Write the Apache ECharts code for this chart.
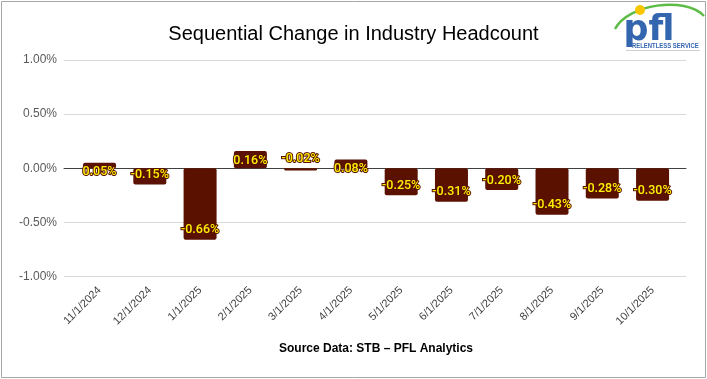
<!DOCTYPE html>
<html>
<head>
<meta charset="utf-8">
<script src="https://cdn.jsdelivr.net/npm/echarts@6/dist/echarts.min.js"></script>
<style>
html,body{margin:0;padding:0;background:#fff;}
#chart{width:707px;height:379px;}
</style>
</head>
<body>
<div id="chart"></div>
<script>
const categories = ['11/1/2024','12/1/2024','1/1/2025','2/1/2025','3/1/2025','4/1/2025','5/1/2025','6/1/2025','7/1/2025','8/1/2025','9/1/2025','10/1/2025'];
const values = [0.05, -0.15, -0.66, 0.16, -0.02, 0.08, -0.25, -0.31, -0.20, -0.43, -0.28, -0.30];
const yTicks = [-1.0, -0.5, 0, 0.5, 1.0];
const titleText = 'Sequential Change in Industry Headcount';
const sourceText = 'Source Data: STB \u2013 PFL Analytics';

const BAR = '#5A1100';
const chart = echarts.init(document.getElementById('chart'), null, {renderer: 'canvas'});

const barData = values.map((v, i) => {
  let pos = v >= 0 ? 'insideTop' : 'insideBottom';
  if (Math.abs(v) < 0.03 && v < 0) pos = 'top';
  return {value: v, label: {position: pos}};
});

const option = {
  backgroundColor: '#fff',
  animation: false,
  title: {
    text: titleText,
    left: 'center',
    top: 19,
    textStyle: {fontFamily: 'Liberation Sans', fontSize: 20, fontWeight: 'normal', color: '#000'}
  },
  grid: [
    {left: 64, right: 21, top: 60, bottom: 102.5, containLabel: false},
    {left: 74.4, right: 29.3, top: 60, bottom: 102.5, containLabel: false}
  ],
  xAxis: [
    {gridIndex: 0, type: 'value', min: 0, max: 1, show: true,
     axisLine: {show: true, onZero: true, lineStyle: {color: '#404040', width: 1}},
     axisTick: {show: false}, axisLabel: {show: false}, splitLine: {show: false}},
    {gridIndex: 1, type: 'category', data: categories, position: 'bottom',
     axisLine: {show: false, onZero: false}, axisTick: {show: false},
     axisLabel: {rotate: 45, margin: 12, fontFamily: 'Liberation Sans', fontSize: 11, color: '#404040', interval: 0}}
  ],
  yAxis: [
    {gridIndex: 0, type: 'value', min: yTicks[0], max: yTicks[yTicks.length - 1], interval: 0.5,
     axisLine: {show: false}, axisTick: {show: false},
     axisLabel: {margin: 7, fontFamily: 'Liberation Sans', fontSize: 12, color: '#595959',
       formatter: v => v.toFixed(2) + '%'},
     splitLine: {show: true, lineStyle: {color: '#d9d9d9', width: 1}}},
    {gridIndex: 1, type: 'value', min: yTicks[0], max: yTicks[yTicks.length - 1], interval: 0.5,
     show: false, splitLine: {show: false}}
  ],
  series: [
    {
      type: 'bar', xAxisIndex: 1, yAxisIndex: 1,
      data: barData,
      barWidth: 33,
      z: 1,
      itemStyle: {color: BAR, borderRadius: 2},
      label: {
        show: true, distance: 3,
        formatter: p => p.value.toFixed(2) + '%',
        fontFamily: 'Roboto', fontSize: 12.5, fontWeight: 500,
        color: '#FFF200', textBorderColor: BAR, textBorderWidth: 2
      }
    }
  ],
  graphic: [
    {type: 'rect', shape: {x: 1.5, y: 1.5, width: 704, height: 376}, style: {fill: 'none', stroke: '#a6a6a6', lineWidth: 1}, silent: true, z: 100},
    {type: 'text', x: 376, y: 349, style: {text: sourceText, align: 'center', verticalAlign: 'middle', fontFamily: 'Liberation Sans', fontSize: 12, fontWeight: 'bold', fill: '#000'}},
    // logo
    {type: 'bezierCurve', shape: {x1: 615, y1: 29, x2: 704, y2: 16, cpx1: 628, cpy1: 4, cpx2: 685, cpy2: -4}, style: {stroke: '#5DBB46', lineWidth: 2.5, fill: 'none'}, z: 10},
    {type: 'circle', shape: {cx: 640, cy: 10, r: 5}, style: {fill: '#F7C600'}, z: 11},
    {type: 'text', x: 649, y: 48, z: 12, style: {text: 'pfl', align: 'center', verticalAlign: 'bottom', fontFamily: 'DejaVu Sans', fontWeight: 'bold', fontSize: 35, fill: '#3466B0'}},
    {type: 'text', x: 632, y: 45.5, scaleX: 0.79, scaleY: 1, originX: 0, originY: 0, z: 13, style: {text: 'RELENTLESS SERVICE', align: 'left', verticalAlign: 'middle', fontFamily: 'Liberation Sans', fontWeight: 'bold', fontSize: 7.5, fill: '#3466B0'}},
    {type: 'line', shape: {x1: 626, y1: 50.5, x2: 700, y2: 50.5}, style: {stroke: '#cfcfcf', lineWidth: 1}, z: 10}
  ]
};
chart.setOption(option);
</script>
</body>
</html>
